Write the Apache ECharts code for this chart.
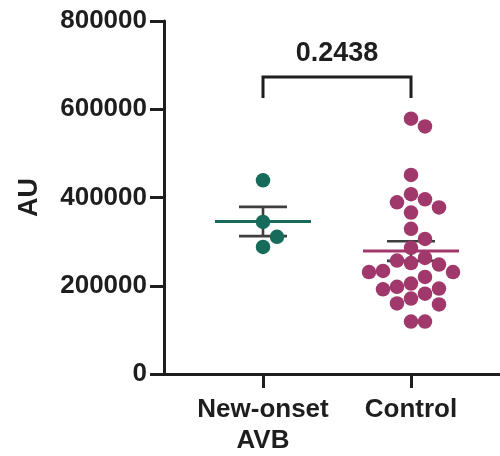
<!DOCTYPE html>
<html>
<head>
<meta charset="utf-8">
<script src="https://cdn.jsdelivr.net/npm/echarts@6/dist/echarts.min.js"></script>
<style>
  html, body { margin: 0; padding: 0; background: #fff; }
  #chart { width: 500px; height: 456px; }
</style>
</head>
<body>
<div id="chart"></div>
<script>
// Group labels (x axis) and per-subject measurements (AU)
const groups = ['New-onset\nAVB', 'Control'];
const newOnsetAVB = [439000, 344600, 310800, 288000];
const control = [
  578700, 561000, 451000, 407600, 396000, 389000, 377600, 366000,
  329000, 306000, 286000, 263000, 257000, 251500, 248000, 233500,
  231000, 231000, 220000, 205000, 197500, 193700, 192000, 182000,
  171000, 160000, 157600, 118700, 118700
];
const yTicks = [0, 200000, 400000, 600000, 800000];
const pValue = '0.2438';

const groupValues = [newOnsetAVB, control];
const groupColors = ['#176b5a', '#a1386b'];
const ink = '#1e1e1e';
const font = '"Liberation Sans", Arial, Helvetica, sans-serif';

const DOT = 14.5;      // marker diameter, px
const COL = 14;        // swarm column spacing, px
const MIN_GAP = 15;    // vertical clearance within one swarm column, px
const MEAN_HALF = 48;  // half width of mean line, px
const CAP_HALF = 24;   // half width of SEM caps, px
const BRACKET_LEVEL = 673000;
const BRACKET_DROP = 21;

function meanSem(arr) {
  const n = arr.length;
  const m = arr.reduce((a, b) => a + b, 0) / n;
  const sd = Math.sqrt(arr.reduce((a, b) => a + (b - m) * (b - m), 0) / (n - 1));
  return [m, sd / Math.sqrt(n)];
}

// Column-based swarm: each point takes the column nearest the centre
// that has no neighbour closer than minGap pixels vertically.
function swarmColumns(pixYs, minGap) {
  const order = pixYs.map((y, i) => i).sort((a, b) => pixYs[a] - pixYs[b]);
  const cols = new Array(pixYs.length);
  const placed = [];
  order.forEach(i => {
    for (let k = 0; k < 50; k++) {
      const cands = k === 0 ? [0] : [k, -k];
      for (const c of cands) {
        const free = placed.every(p => p.c !== c || Math.abs(p.y - pixYs[i]) >= minGap);
        if (free) { cols[i] = c; placed.push({ c: c, y: pixYs[i] }); return; }
      }
    }
  });
  return cols;
}

const chart = echarts.init(document.getElementById('chart'), null, { renderer: 'canvas' });

const xMin = 1 - 99 / 148;
const xMax = 2 + 89 / 148;

const baseOption = {
  animation: false,
  backgroundColor: '#ffffff',
  grid: { left: 164, right: 0, top: 21, bottom: 80 },
  xAxis: {
    type: 'value',
    min: xMin,
    max: xMax,
    splitLine: { show: false },
    axisLine: { show: true, lineStyle: { color: ink, width: 3 } },
    axisTick: { show: true, customValues: [1, 2], length: 14, lineStyle: { color: ink, width: 3 } },
    axisLabel: {
      show: true,
      customValues: [1, 2],
      formatter: v => groups[Math.round(v) - 1] || '',
      fontFamily: font, fontWeight: 'bold', fontSize: 26, lineHeight: 31,
      color: ink, margin: 20
    }
  },
  yAxis: {
    type: 'value',
    min: yTicks[0],
    max: yTicks[yTicks.length - 1],
    interval: yTicks[1] - yTicks[0],
    name: 'AU',
    nameLocation: 'middle',
    nameRotate: 90,
    nameGap: 121,
    nameTextStyle: { fontFamily: font, fontWeight: 'bold', fontSize: 27, color: ink },
    splitLine: { show: false },
    axisLine: { show: true, lineStyle: { color: ink, width: 3 } },
    axisTick: { show: true, length: 14, lineStyle: { color: ink, width: 3 } },
    axisLabel: {
      fontFamily: font, fontWeight: 'bold', fontSize: 26, color: ink, margin: 17,
      formatter: v => String(v)
    }
  },
  series: []
};

chart.setOption(baseOption);

// Pixel scale of the x axis, used to turn swarm column offsets into axis units
const p1 = chart.convertToPixel({ gridIndex: 0 }, [1, 0]);
const p2 = chart.convertToPixel({ gridIndex: 0 }, [2, 0]);
const pxPerX = p2[0] - p1[0];

const dotSeries = groupValues.map((vals, g) => {
  const pixYs = vals.map(v => chart.convertToPixel({ gridIndex: 0 }, [g + 1, v])[1]);
  const cols = swarmColumns(pixYs, MIN_GAP);
  return {
    type: 'scatter',
    name: groups[g],
    z: 5,
    symbol: 'circle',
    symbolSize: DOT,
    itemStyle: { color: groupColors[g], opacity: 1 },
    data: vals.map((v, i) => [g + 1 + cols[i] * COL / pxPerX, v])
  };
});

const summaryData = groupValues.map((vals, g) => {
  const ms = meanSem(vals);
  return [g + 1, ms[0], ms[1], g];
});

const summarySeries = {
  type: 'custom',
  z: 3,
  data: summaryData,
  renderItem: function (params, api) {
    const x = api.value(0), m = api.value(1), s = api.value(2), g = api.value(3);
    const c = api.coord([x, m]);
    const hi = api.coord([x, m + s]);
    const lo = api.coord([x, m - s]);
    const bar = { stroke: '#3f3f3f', lineWidth: 2.6 };
    return {
      type: 'group',
      children: [
        { type: 'line', shape: { x1: c[0], y1: hi[1], x2: c[0], y2: lo[1] }, style: bar },
        { type: 'line', shape: { x1: c[0] - CAP_HALF, y1: hi[1], x2: c[0] + CAP_HALF, y2: hi[1] }, style: bar },
        { type: 'line', shape: { x1: c[0] - CAP_HALF, y1: lo[1], x2: c[0] + CAP_HALF, y2: lo[1] }, style: bar },
        { type: 'line', shape: { x1: c[0] - MEAN_HALF, y1: c[1], x2: c[0] + MEAN_HALF, y2: c[1] },
          style: { stroke: groupColors[g], lineWidth: 3 } }
      ]
    };
  }
};

// Significance bracket between the two groups with the p value above it
const bracketSeries = {
  type: 'custom',
  z: 4,
  data: [[1, 2, BRACKET_LEVEL]],
  renderItem: function (params, api) {
    const a = api.coord([api.value(0), api.value(2)]);
    const b = api.coord([api.value(1), api.value(2)]);
    const st = { stroke: ink, lineWidth: 3, fill: null, lineJoin: 'miter' };
    return {
      type: 'group',
      children: [
        { type: 'polyline', shape: { points: [[a[0], a[1] + BRACKET_DROP], [a[0], a[1]], [b[0], b[1]], [b[0], b[1] + BRACKET_DROP]] }, style: st },
        { type: 'text', x: (a[0] + b[0]) / 2, y: a[1] - 10,
          style: { text: pValue, fontFamily: font, fontWeight: 'bold', fontSize: 27, fill: ink,
                   align: 'center', verticalAlign: 'bottom' } }
      ]
    };
  }
};

chart.setOption({ series: [summarySeries, bracketSeries].concat(dotSeries) });
</script>
</body>
</html>
